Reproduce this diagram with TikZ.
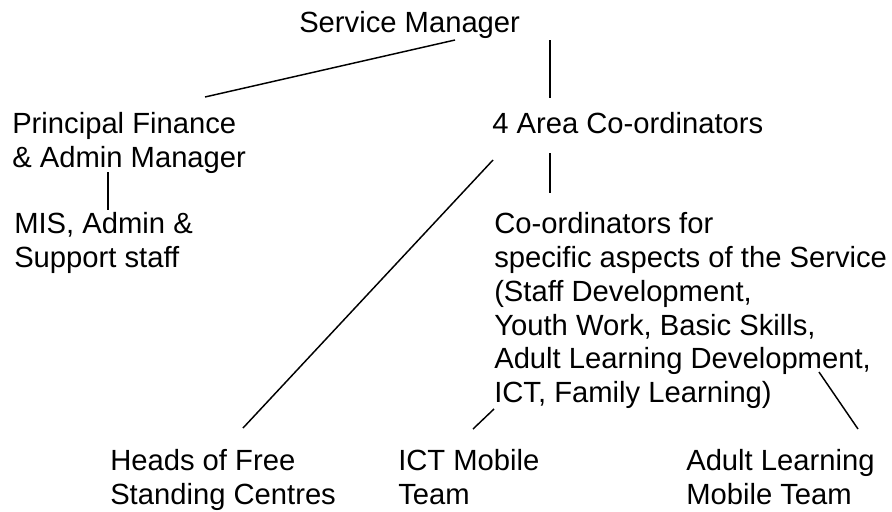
\documentclass[tikz,border=0pt]{standalone}
\usepackage{fontspec}
\setmainfont{Liberation Sans}
\usetikzlibrary{calc}
\tikzstyle{post} = [anchor=base west, inner sep=0pt, align=left, font=\fontsize{21.9}{25.3}\selectfont]
\tikzset{link/.style = {
    line width=1.1pt,
  }
}

\begin{document}
\begin{tikzpicture}[x=0.75pt,y=-0.75pt]
            \useasboundingbox (0,0) rectangle (892,511);
            % vertices (placed at the baseline of their last line)
            \node[post] (mgr) at (299,32) {Service Manager};
            \node[post] (pfa) at (12,167) {Principal Finance\\ \& Admin Manager};
            \node[post] (area) at (492,133) {4 Area Co-ordinators};
            \node[post] (mis) at (14,267) {MIS, Admin \&\\ Support staff};
            \node[post] (coord) at (494,402.5) {Co-ordinators for\\ specific aspects of the Service\\ (Staff Development,\\ Youth Work, Basic Skills,\\ Adult Learning Development,\\ ICT, Family Learning)};
            \node[post] (heads) at (110,504) {Heads of Free\\ Standing Centres};
            \node[post] (ictm) at (398,504) {ICT Mobile\\ Team};
            \node[post] (adult) at (686,504) {Adult Learning\\ Mobile Team};

            %edges
            \draw[link] ($(mgr.base west)+(156,8)$) -- ($(pfa.base west)+(193,-70)$);
            \draw[link] ($(mgr.base west)+(251,8)$) -- ($(area.base west)+(58,-35)$);
            \draw[link] ($(pfa.base west)+(96,5)$) -- ($(mis.base west)+(94,-57)$);
            \draw[link] ($(area.base west)+(58,20)$) -- ($(coord.base west)+(56,-209.5)$);
            \draw[link] ($(area.base west)+(1,27)$) -- ($(heads.base west)+(133,-76)$);
            \draw[link] ($(coord.base west)+(0,6.5)$) -- ($(ictm.base west)+(75,-75)$);
            \draw[link] ($(coord.base west)+(325,-30.5)$) -- ($(adult.base west)+(172,-75)$);
\end{tikzpicture}
\end{document}
